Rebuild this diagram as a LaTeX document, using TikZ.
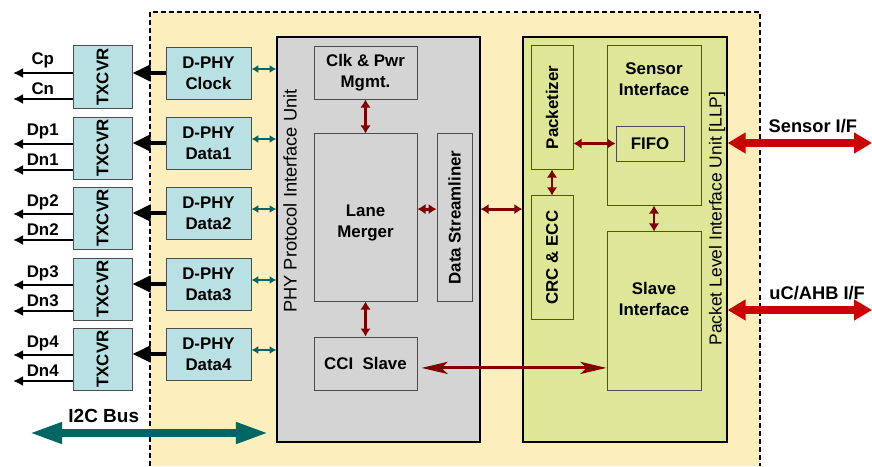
\documentclass[tikz,border=0pt]{standalone}
\usepackage{fontspec}
\setmainfont{Liberation Sans}
\usetikzlibrary{arrows.meta}
\definecolor{chipbg}{RGB}{253,239,189}
\definecolor{phybg}{RGB}{185,224,226}
\definecolor{unitgray}{RGB}{212,212,212}
\definecolor{llpgreen}{RGB}{221,231,151}
\definecolor{tealbus}{RGB}{0,102,98}
\definecolor{darkred}{RGB}{128,0,0}
\definecolor{brightred}{RGB}{204,0,0}
\tikzstyle{boxtext}=[font=\fontsize{12}{15}\selectfont\bfseries,align=center]
\tikzstyle{blk}=[boxtext,draw=black!70,line width=0.7pt,inner sep=0pt]
\tikzstyle{txcvr}=[blk,fill=phybg,minimum width=1.475cm,minimum height=1.55cm]
\tikzstyle{dphy}=[blk,fill=phybg,minimum width=2.125cm,minimum height=1.3cm]
\tikzstyle{unit}=[draw=black,line width=0.9pt,inner sep=0pt,minimum width=5.1cm,minimum height=10.125cm]
\tikzstyle{subbox}=[blk,fill=unitgray]
\tikzstyle{greenbox}=[blk,fill=llpgreen]
\tikzstyle{unitlabel}=[rotate=90,inner sep=0pt]
\tikzstyle{siglabel}=[font=\fontsize{12}{14}\selectfont\bfseries,inner sep=2.5pt]
\tikzstyle{buslabel}=[text=black,font=\fontsize{13}{15}\selectfont\bfseries,inner sep=5pt]
\tikzstyle{chipedge}=[line width=1.4pt,dash pattern=on 3.5pt off 2.2pt]
\tikzstyle{sigout}=[-{Latex[length=0.25cm,width=0.25cm]},line width=1.4pt]
\tikzstyle{phyout}=[-{Triangle[length=0.45cm,width=0.4cm]},line width=3pt]
\tikzstyle{phylink}=[{Latex[length=0.17cm,width=0.2cm]}-{Latex[length=0.17cm,width=0.2cm]},line width=1.2pt,tealbus]
\tikzstyle{ctrl}=[{Latex[length=0.2cm,width=0.26cm]}-{Latex[length=0.2cm,width=0.26cm]},line width=2pt,darkred]
\tikzstyle{cciarrow}=[{Stealth[length=0.65cm,width=0.3cm,inset=0.15cm]}-{Stealth[length=0.65cm,width=0.3cm,inset=0.15cm]},line width=2.2pt,darkred]
\tikzstyle{extbus}=[{Triangle[length=0.45cm,width=0.5cm]}-{Triangle[length=0.45cm,width=0.5cm]},line width=5pt,brightred]
\tikzstyle{i2cbus}=[{Triangle[length=0.8cm,width=0.5cm]}-{Triangle[length=0.8cm,width=0.5cm]},line width=5pt,tealbus]

\begin{document}
\begin{tikzpicture}[x=0.025cm,y=-0.025cm]
    \useasboundingbox (0,0) rectangle (872,466);
    \fill [chipbg] (150,12) rectangle (760,466);
    \draw [chipedge] (150,466) -- (150,12) -- (760,12) -- (760,466);

    \node (t0) at (102.5,77) [txcvr] {\rotatebox{90}{TXCVR}};
    \node (t1) at (102.5,148) [txcvr] {\rotatebox{90}{TXCVR}};
    \node (t2) at (102.5,218) [txcvr] {\rotatebox{90}{TXCVR}};
    \node (t3) at (102.5,289) [txcvr] {\rotatebox{90}{TXCVR}};
    \node (t4) at (102.5,359) [txcvr] {\rotatebox{90}{TXCVR}};

    \node (d0) at (208.5,73) [dphy] {D-PHY\\Clock};
    \node (d1) at (208.5,143) [dphy] {D-PHY\\Data1};
    \node (d2) at (208.5,213) [dphy] {D-PHY\\Data2};
    \node (d3) at (208.5,284) [dphy] {D-PHY\\Data3};
    \node (d4) at (208.5,354) [dphy] {D-PHY\\Data4};

    \node (phy) at (378.5,239.5) [unit,fill=unitgray,minimum width=5.075cm] {};
    \node (phylbl) at (290,201) [unitlabel,font=\fontsize{13}{15}\selectfont] {PHY Protocol Interface Unit};
    \node (clk) at (365.5,72.5) [subbox,minimum width=2.575cm,minimum height=1.325cm] {Clk \& Pwr\\Mgmt.};
    \node (lane) at (365.5,217.5) [subbox,minimum width=2.575cm,minimum height=4.175cm] {};
    \node (lanetxt) at (365.5,223) [boxtext] {Lane\\Merger};
    \node (ds) at (454.5,217.5) [subbox,minimum width=0.875cm,minimum height=4.175cm] {\rotatebox{90}{Data Streamliner}};
    \node (cci) at (365.5,363.5) [subbox,minimum width=2.575cm,minimum height=1.325cm] {CCI\ \ Slave};

    \node (llp) at (625,239.5) [unit,fill=llpgreen] {};
    \node (llplbl) at (717,218.5) [unitlabel,font=\fontsize{12.4}{15}\selectfont] {Packet Level Interface Unit [LLP]};
    \node (pack) at (552,107.5) [greenbox,minimum width=1.05cm,minimum height=3.075cm] {\rotatebox{90}{Packetizer}};
    \node (crc) at (552,257.5) [greenbox,minimum width=1.05cm,minimum height=3.075cm] {\rotatebox{90}{CRC \& ECC}};
    \node (sens) at (654,125.5) [greenbox,minimum width=2.35cm,minimum height=3.975cm] {};
    \node (senstxt) at (654,79) [boxtext] {Sensor\\Interface};
    \node (fifo) at (650,143.5) [greenbox,minimum width=1.7cm,minimum height=0.875cm] {FIFO};
    \node (slave) at (654,311) [greenbox,minimum width=2.35cm,minimum height=3.95cm] {};
    \node (slavetxt) at (654,299) [boxtext] {Slave\\Interface};

    \coordinate (cp) at (13,73);
    \coordinate (cn) at (13,99);
    \coordinate (dp1) at (13,144);
    \coordinate (dn1) at (13,170);
    \coordinate (dp2) at (13,214);
    \coordinate (dn2) at (13,240);
    \coordinate (dp3) at (13,285);
    \coordinate (dn3) at (13,311);
    \coordinate (dp4) at (13,355);
    \coordinate (dn4) at (13,381);
    \coordinate (sensif) at (872,143);
    \coordinate (hostif) at (872,310);
    \coordinate (i2cl) at (30,433);
    \coordinate (i2cr) at (268,433);

    \draw [sigout] (cp -| t0.west) -- (cp) node [midway,above,siglabel] {Cp};
    \draw [sigout] (cn -| t0.west) -- (cn) node [midway,above,siglabel] {Cn};
    \draw [sigout] (dp1 -| t1.west) -- (dp1) node [midway,above,siglabel] {Dp1};
    \draw [sigout] (dn1 -| t1.west) -- (dn1) node [midway,above,siglabel] {Dn1};
    \draw [sigout] (dp2 -| t2.west) -- (dp2) node [midway,above,siglabel] {Dp2};
    \draw [sigout] (dn2 -| t2.west) -- (dn2) node [midway,above,siglabel] {Dn2};
    \draw [sigout] (dp3 -| t3.west) -- (dp3) node [midway,above,siglabel] {Dp3};
    \draw [sigout] (dn3 -| t3.west) -- (dn3) node [midway,above,siglabel] {Dn3};
    \draw [sigout] (dp4 -| t4.west) -- (dp4) node [midway,above,siglabel] {Dp4};
    \draw [sigout] (dn4 -| t4.west) -- (dn4) node [midway,above,siglabel] {Dn4};

    \draw [phyout] (d0.west) -- (d0.west -| t0.east);
    \draw [phyout] (d1.west) -- (d1.west -| t1.east);
    \draw [phyout] (d2.west) -- (d2.west -| t2.east);
    \draw [phyout] (d3.west) -- (d3.west -| t3.east);
    \draw [phyout] (d4.west) -- (d4.west -| t4.east);

    \draw [phylink] ([yshift=0.1cm]d0.east) -- ([yshift=0.1cm]d0.east -| phy.west);
    \draw [phylink] ([yshift=0.1cm]d1.east) -- ([yshift=0.1cm]d1.east -| phy.west);
    \draw [phylink] ([yshift=0.1cm]d2.east) -- ([yshift=0.1cm]d2.east -| phy.west);
    \draw [phylink] ([yshift=0.1cm]d3.east) -- ([yshift=0.1cm]d3.east -| phy.west);
    \draw [phylink] ([yshift=0.1cm]d4.east) -- ([yshift=0.1cm]d4.east -| phy.west);

    \draw [ctrl] (clk.south) -- (lane.north);
    \draw [ctrl] (lane.south) -- (cci.north);
    \draw [ctrl] ([yshift=0.21cm]lane.east) -- ([yshift=0.21cm]lane.east -| ds.west);
    \draw [ctrl] ([yshift=0.21cm]ds.east -| phy.east) -- ([yshift=0.21cm]ds.east -| llp.west);
    \draw [ctrl] (fifo.west -| pack.east) -- (fifo.west);
    \draw [ctrl] (pack.south) -- (crc.north);
    \draw [ctrl] (sens.south) -- (slave.north);
    \draw [cciarrow] ([xshift=0.1cm,yshift=-0.11cm]cci.east) -- ([yshift=-0.11cm]cci.east -| slave.west);

    \draw [extbus] (sensif -| llp.east) -- (sensif) node [pos=0.59,above,buslabel] {Sensor I/F};
    \draw [extbus] (hostif -| llp.east) -- (hostif) node [pos=0.62,above,buslabel] {uC/AHB I/F};
    \draw [i2cbus] (i2cl) -- (i2cr) node [pos=0.31,above,buslabel,font=\fontsize{13.5}{15}\selectfont\bfseries] {I2C Bus};
\end{tikzpicture}
\end{document}
